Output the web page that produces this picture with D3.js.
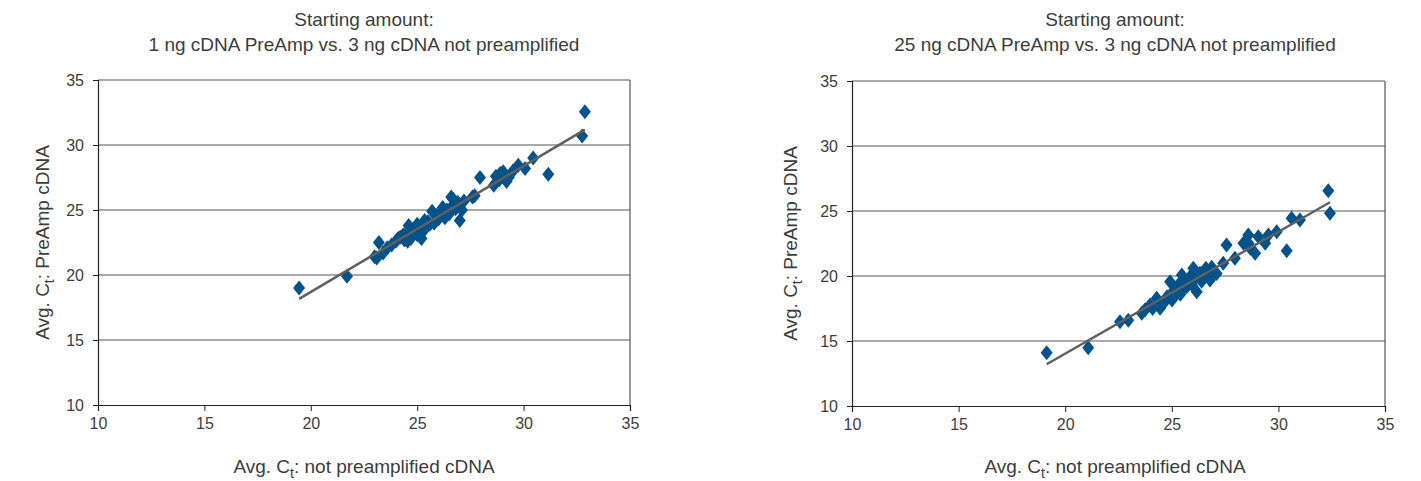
<!DOCTYPE html>
<html><head><meta charset="utf-8">
<script src="https://cdn.jsdelivr.net/npm/d3@7"></script>
<style>body{margin:0;background:#fff}svg text{font-family:"Liberation Sans",Arial,sans-serif;fill:#3c3c3c}</style>
</head><body><svg id="c" width="1421" height="481"></svg>
<script>
const axisTicks = [10, 15, 20, 25, 30, 35];
const titleLine1 = "Starting amount:";
const leftTitle2 = "1 ng cDNA PreAmp vs. 3 ng cDNA not preamplified";
const rightTitle2 = "25 ng cDNA PreAmp vs. 3 ng cDNA not preamplified";

// left: x = not preamplified Ct, y = PreAmp Ct
const leftX = [19.45,21.7,23.0,23.1,23.2,23.4,23.6,23.8,24.0,24.1,24.2,24.35,24.4,24.5,24.55,24.6,24.7,24.8,24.9,25.0,25.0,25.1,25.2,25.3,25.35,25.4,25.5,25.6,25.7,25.8,25.9,26.0,26.1,26.2,26.3,26.4,26.5,26.6,26.65,26.7,26.8,26.9,27.0,27.0,27.1,27.2,27.6,27.7,27.95,28.6,28.7,28.85,28.9,29.04,29.2,29.3,29.5,29.75,30.07,30.45,31.16,32.75,32.88];
const leftY = [19.0,19.9,21.4,21.3,22.5,21.7,22.1,22.3,22.6,22.8,22.9,23.1,22.7,23.2,22.6,23.8,22.8,23.5,23.3,23.9,23.1,23.6,22.8,23.4,24.2,23.7,24.1,23.9,24.9,24.0,24.6,24.3,24.8,25.2,24.4,25.0,24.7,26.0,25.3,25.8,25.1,25.6,24.2,25.4,25.0,25.7,26.0,26.1,27.5,26.9,27.6,27.3,27.8,27.95,27.2,27.5,28.0,28.45,28.2,29.0,27.75,30.7,32.55];

// right
const rightX = [19.13,21.08,22.57,22.96,23.59,23.75,23.98,24.1,24.29,24.45,24.6,24.7,24.78,24.92,25.01,25.1,25.15,25.23,25.3,25.4,25.47,25.55,25.6,25.7,25.8,25.85,25.95,26.01,26.1,26.17,26.25,26.32,26.4,26.5,26.6,26.7,26.79,26.87,26.95,27.1,27.41,27.57,27.96,28.36,28.59,28.6,28.68,28.91,29.06,29.38,29.53,29.92,30.39,30.62,31.01,32.34,32.42];
const rightY = [14.1,14.48,16.48,16.6,17.13,17.4,17.77,17.5,18.28,17.51,17.9,18.1,18.4,19.56,18.15,18.9,18.5,18.92,19.3,18.6,20.08,19.1,19.5,19.18,19.6,19.95,19.3,20.59,19.9,18.79,20.0,20.21,19.6,20.3,20.6,20.0,19.69,20.67,20.46,20.2,20.98,22.38,21.36,22.51,23.15,22.5,22.13,21.75,23.02,22.51,23.15,23.41,21.95,24.44,24.31,26.56,24.82];

const svg = d3.select("#c");
const diamond = "M0,-7.5L6,0L0,7.5L-6,0Z";

function panel(cfg) {
  const {x0, x1, y0, y1, xs, ys, t2, cx, ylabX} = cfg;
  const x = d3.scaleLinear().domain([10, 35]).range([x0, x1]);
  const y = d3.scaleLinear().domain([10, 35]).range([y1, y0]);
  const g = svg.append("g");
  g.selectAll(".grid").data(axisTicks.slice(1)).enter().append("line")
    .attr("x1", x0).attr("x2", x1).attr("y1", d => y(d)).attr("y2", d => y(d))
    .attr("stroke", "#555").attr("stroke-width", 1.2);
  g.append("line").attr("x1", x1).attr("x2", x1).attr("y1", y0).attr("y2", y1).attr("stroke", "#555").attr("stroke-width", 1.2);
  const ax = g.append("g").attr("transform", `translate(0,${y1})`)
    .call(d3.axisBottom(x).tickValues(axisTicks).tickSize(6).tickPadding(7));
  const ay = g.append("g").attr("transform", `translate(${x0},0)`)
    .call(d3.axisLeft(y).tickValues(axisTicks).tickSize(5).tickPadding(9));
  [ax, ay].forEach(a => {
    a.select(".domain").attr("stroke", "#222").attr("stroke-width", 1.2);
    a.selectAll(".tick line").attr("stroke", "#222");
    a.selectAll("text").style("font-size", "16px").attr("fill", "#3c3c3c");
  });
  g.append("text").attr("x", cx).attr("y", 26).attr("text-anchor", "middle").style("font-size", "19px").text(titleLine1);
  g.append("text").attr("x", cx).attr("y", 51).attr("text-anchor", "middle").style("font-size", "19px").text(t2);
  const xl = g.append("text").attr("x", cx).attr("y", 473).attr("text-anchor", "middle").style("font-size", "19px");
  xl.append("tspan").text("Avg. C");
  xl.append("tspan").attr("dy", 5).style("font-size", "14px").text("t");
  xl.append("tspan").attr("dy", -5).text(": not preamplified cDNA");
  const yl = g.append("text").attr("transform", `translate(${ylabX},${(y0 + y1) / 2}) rotate(-90)`).attr("text-anchor", "middle").style("font-size", "19px");
  yl.append("tspan").text("Avg. C");
  yl.append("tspan").attr("dy", 5).style("font-size", "14px").text("t");
  yl.append("tspan").attr("dy", -5).text(": PreAmp cDNA");
  const pts = xs.map((v, i) => [v, ys[i]]);
  g.selectAll(".pt").data(pts).enter().append("path")
    .attr("d", diamond).attr("transform", d => `translate(${x(d[0])},${y(d[1])})`)
    .attr("fill", "#03528a");
  const mx = d3.mean(xs), my = d3.mean(ys);
  const sxy = d3.sum(pts, d => (d[0] - mx) * (d[1] - my));
  const sxx = d3.sum(xs, v => (v - mx) * (v - mx));
  const b = sxy / sxx, a = my - b * mx;
  const [xmin, xmax] = d3.extent(xs);
  g.append("line").attr("x1", x(xmin)).attr("y1", y(a + b * xmin)).attr("x2", x(xmax)).attr("y2", y(a + b * xmax))
    .attr("stroke", "#606060").attr("stroke-width", 2.5);
}

panel({x0: 98, x1: 630, y0: 80, y1: 405, xs: leftX, ys: leftY, t2: leftTitle2, cx: 364, ylabX: 49});
panel({x0: 852, x1: 1385, y0: 81, y1: 406, xs: rightX, ys: rightY, t2: rightTitle2, cx: 1115, ylabX: 797});
</script></body></html>
